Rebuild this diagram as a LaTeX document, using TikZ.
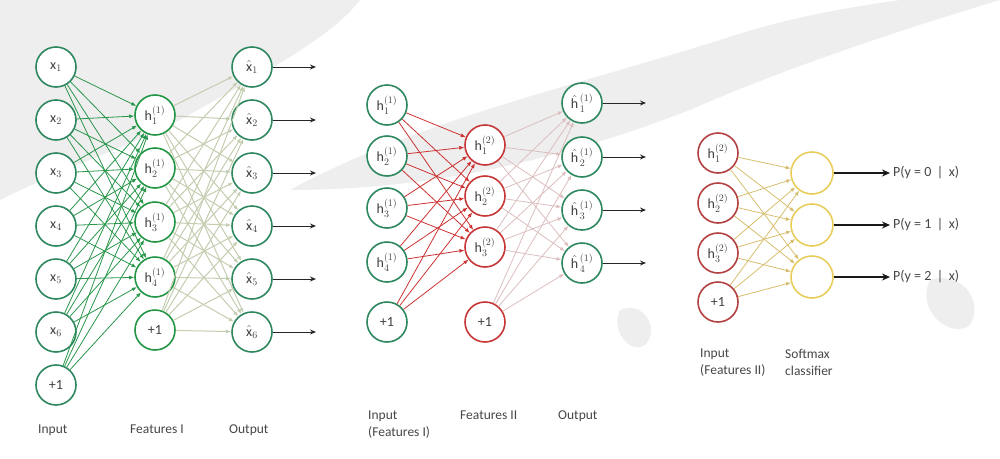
\documentclass[tikz,border=0pt]{standalone}
\usepackage{fontspec}
\setmainfont{Carlito}
\usetikzlibrary{arrows.meta}
\definecolor{tealg}{RGB}{45,135,95}
\definecolor{brightg}{RGB}{35,150,70}
\definecolor{edgeg}{RGB}{40,150,75}
\definecolor{edgegray}{RGB}{195,205,175}
\definecolor{redc}{RGB}{200,55,55}
\definecolor{darkred}{RGB}{180,65,65}
\definecolor{edger}{RGB}{205,50,50}
\definecolor{edgepink}{RGB}{220,190,190}
\definecolor{yelc}{RGB}{232,205,90}
\definecolor{edgey}{RGB}{215,190,110}
\definecolor{txt}{RGB}{70,70,70}
\definecolor{bgstroke}{RGB}{238,238,238}
\begin{document}
\begin{tikzpicture}[x=1pt,y=-1pt,
  neuron/.style={circle,draw,line width=1.6pt,fill=white,minimum size=40pt,inner sep=0pt,font=\fontsize{14}{16}\selectfont,text=black!75},
  conn/.style={line width=0.8pt,-{Latex[length=5pt,width=4pt]}},
  outarrow/.style={line width=1pt,black!85,-{Stealth[length=6pt,width=5pt]}},
  bigarrow/.style={line width=2pt,black!90,-{Stealth[length=8pt,width=7pt]}},
  caption/.style={font=\fontsize{13.5}{17}\selectfont,text=txt,anchor=north west,align=left,inner sep=0pt}]
\useasboundingbox (0,0) rectangle (1000,458);
% faint brush strokes in the background
\fill[bgstroke] (0,0) -- (360,0) .. controls (330,40) and (250,80) .. (180,120) .. controls (120,150) and (60,170) .. (0,200) -- cycle;
\fill[bgstroke] (290,190) .. controls (420,120) and (560,90) .. (720,40) .. controls (780,20) and (830,10) .. (900,0) -- (1000,0) .. controls (900,30) and (780,70) .. (690,110) .. controls (560,160) and (430,190) .. (290,190) -- cycle;
\fill[bgstroke] (620,310) .. controls (645,300) and (660,330) .. (645,345) .. controls (630,355) and (610,330) .. (620,310) -- cycle;
\fill[bgstroke] (930,280) .. controls (960,270) and (985,300) .. (970,325) .. controls (950,340) and (915,310) .. (930,280) -- cycle;

% ---------- Network 1 ----------
\foreach \i/\y in {1/67,2/120,3/173,4/226,5/279,6/332}
  \node[neuron,draw=tealg] (a\i) at (56,\y) {$\mathrm{x}_{\i}$};
\node[neuron,draw=tealg] (a7) at (56,385) {+1};
\foreach \i/\y in {1/115,2/168,3/222,4/277}
  \node[neuron,draw=brightg] (b\i) at (155,\y) {$\mathrm{h}^{(1)}_{\i}$};
\node[neuron,draw=brightg] (b5) at (155,330) {+1};
\foreach \i/\y in {1/67,2/120,3/173,4/226,5/279,6/332}
  \node[neuron,draw=tealg] (c\i) at (252,\y) {$\hat{\mathrm{x}}_{\i}$};
\foreach \i in {1,...,7}
  \foreach \j in {1,...,4}
    \draw[conn,edgeg] (a\i) -- (b\j);
\foreach \i in {1,...,5}
  \foreach \j in {1,...,6}
    \draw[conn,edgegray,line width=1pt] (b\i) -- (c\j);
\foreach \j in {1,...,6}{
  \coordinate (ce\j) at ([xshift=64pt]c\j.center);
  \draw[outarrow] (c\j) -- (ce\j);
}
\node[caption] (l1) at (38,425) {Input};
\node[caption] (l2) at (130,425) {Features I};
\node[caption] (l3) at (229,425) {Output};

% ---------- Network 2 ----------
\foreach \i/\y in {1/105,2/156,3/208,4/262}
  \node[neuron,draw=tealg] (d\i) at (387,\y) {$\mathrm{h}^{(1)}_{\i}$};
\node[neuron,draw=tealg] (d5) at (387,322) {+1};
\foreach \i/\y in {1/145,2/196,3/247}
  \node[neuron,draw=redc] (e\i) at (485,\y) {$\mathrm{h}^{(2)}_{\i}$};
\node[neuron,draw=redc] (e4) at (485,322) {+1};
\foreach \i/\y in {1/103,2/157,3/210,4/263}
  \node[neuron,draw=tealg] (f\i) at (582,\y) {$\hat{\mathrm{h}}^{\,(1)}_{\,\i}$};
\foreach \i in {1,...,5}
  \foreach \j in {1,...,3}
    \draw[conn,edger] (d\i) -- (e\j);
\foreach \i in {1,...,4}
  \foreach \j in {1,...,4}
    \draw[conn,edgepink] (e\i) -- (f\j);
\foreach \j in {1,...,4}{
  \coordinate (fe\j) at ([xshift=64pt]f\j.center);
  \draw[outarrow] (f\j) -- (fe\j);
}
\node[caption] (l4) at (368,411) {Input\\(Features I)};
\node[caption] (l5) at (460,411) {Features II};
\node[caption] (l6) at (558,411) {Output};

% ---------- Network 3 ----------
\foreach \i/\y in {1/153,2/203,3/253}
  \node[neuron,draw=darkred] (g\i) at (718,\y) {$\mathrm{h}^{(2)}_{\i}$};
\node[neuron,draw=darkred] (g4) at (718,302) {+1};
\foreach \i/\y in {1/173,2/225,3/277}
  \node[neuron,draw=yelc,minimum size=42pt] (s\i) at (812,\y) {};
\foreach \i in {1,...,4}
  \foreach \j in {1,...,3}
    \draw[conn,edgey] (g\i) -- (s\j);
\foreach \j/\k in {1/0,2/1,3/2}{
  \coordinate (se\j) at ([xshift=78pt]s\j.center);
  \draw[bigarrow] (s\j) -- (se\j);
  \node[anchor=west,font=\fontsize{14}{16}\selectfont,text=txt,inner sep=3pt] (p\j) at (se\j) {P(y = \k\ \,|\ \,x)};
}
\node[caption] (l7) at (700,349) {Input\\(Features II)};
\node[caption] (l8) at (785,349) {Softmax\\classifier};
\end{tikzpicture}
\end{document}
